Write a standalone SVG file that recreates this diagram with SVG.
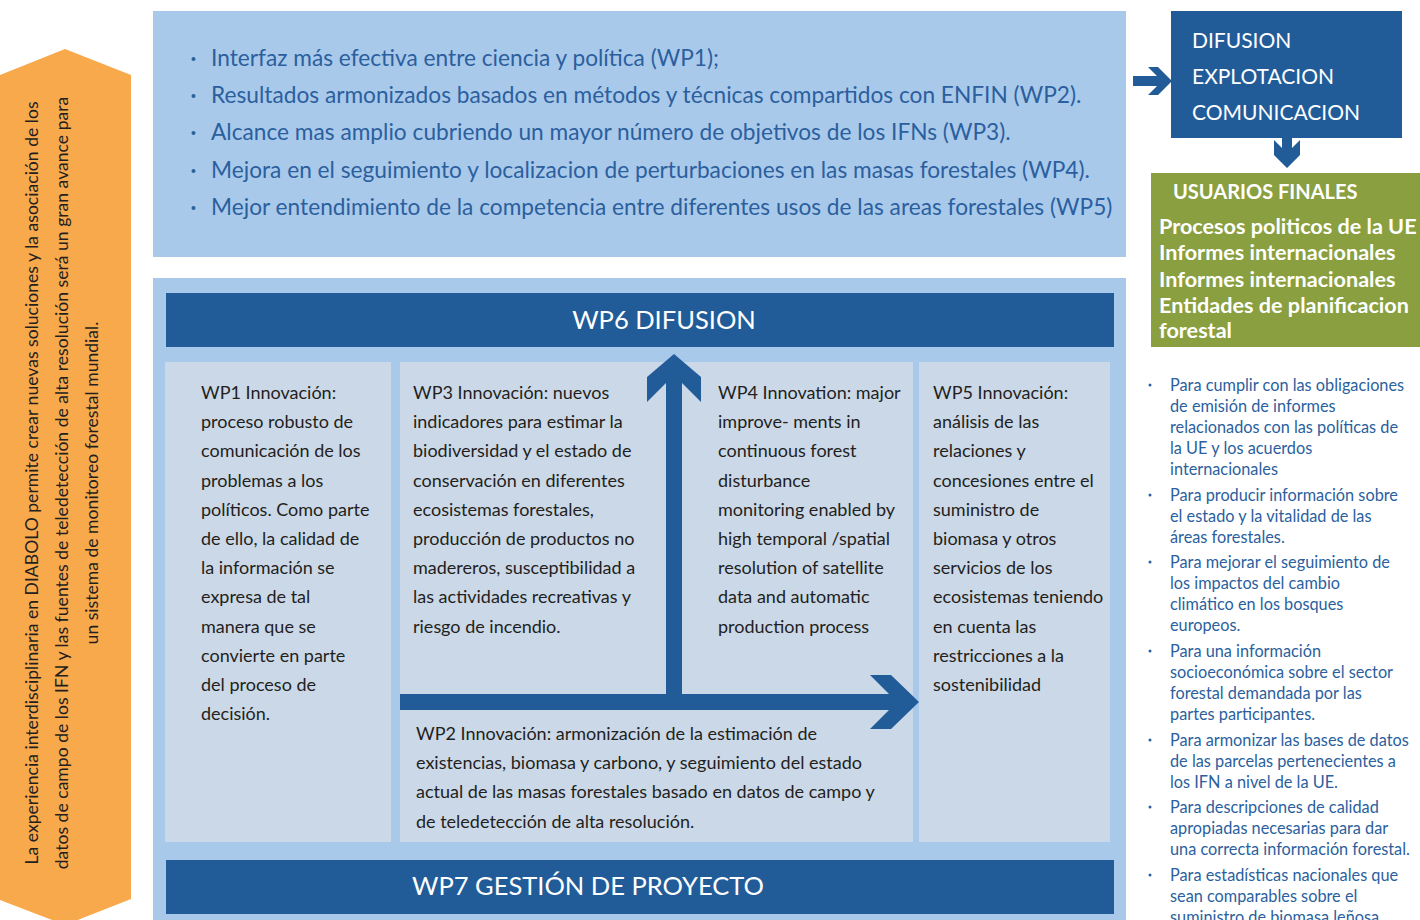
<svg xmlns="http://www.w3.org/2000/svg" width="1420" height="920" viewBox="0 0 1420 920">
<style>
.t{font-family:Lato,"Open Sans","Liberation Sans",sans-serif}
.bul{font-size:22.7px;fill:#2B5F9E}
.pan{font-size:18px;fill:#231F20}
.hdr{font-size:25.5px;fill:#FFFFFF}
.ora{font-size:17.6px;fill:#231F20}
.dif{font-size:21px;fill:#FFFFFF}
.grn{font-size:21.6px;font-weight:bold;fill:#FFFFFF}
.grh{font-size:20px;font-weight:bold;fill:#FFFFFF}
.rb{font-size:16.3px;fill:#2B5F9E}
.lb{fill:#A9C9EA}
.pn{fill:#CBD8E8}
.db{fill:#215C99}
.dot{fill:#2B5F9E}
</style>
<rect width="1420" height="920" fill="#FFFFFF"/>

<g id="orange-arrow">
<polygon points="0,75 65,49 131,75 131,899 65,925 0,900" fill="#F8A94C"/>
<text class="t ora" text-anchor="middle" transform="translate(38,483) rotate(-90)">La experiencia interdisciplinaria en DIABOLO permite crear nuevas soluciones y la asociación de los</text>
<text class="t ora" text-anchor="middle" transform="translate(68,483) rotate(-90)">datos de campo de los IFN y las fuentes de teledetección de alta resolución será un gran avance para</text>
<text class="t ora" text-anchor="middle" transform="translate(98,483) rotate(-90)">un sistema de monitoreo forestal mundial.</text>
</g>

<g id="outcomes">
<rect class="lb" x="153" y="11" width="973" height="246"/>
<g class="dot">
<circle cx="193.5" cy="59" r="2"/>
<circle cx="193.5" cy="96" r="2"/>
<circle cx="193.5" cy="133" r="2"/>
<circle cx="193.5" cy="171" r="2"/>
<circle cx="193.5" cy="208" r="2"/>
</g>
<g class="t bul">
<text x="211" y="66">Interfaz más efectiva entre ciencia y política (WP1);</text>
<text x="211" y="103">Resultados armonizados basados en métodos y técnicas compartidos con ENFIN (WP2).</text>
<text x="211" y="140">Alcance mas amplio cubriendo un mayor número de objetivos de los IFNs (WP3).</text>
<text x="211" y="178">Mejora en el seguimiento y localizacion de perturbaciones en las masas forestales (WP4).</text>
<text x="211" y="215">Mejor entendimiento de la competencia entre diferentes usos de las areas forestales (WP5)</text>
</g>
</g>

<g id="work-packages">
<rect class="lb" x="153" y="278" width="973" height="642"/>
</g>

<g id="wp6">
<rect class="db" x="166" y="293" width="948" height="54"/>
<text class="t hdr" x="664" y="329" text-anchor="middle">WP6 DIFUSION</text>
</g>

<g id="wp1">
<rect class="pn" x="165" y="362" width="226" height="480"/>
<text class="t pan" x="201" y="399">
<tspan x="201">WP1 Innovación:</tspan>
<tspan x="201" dy="29.2">proceso robusto de</tspan>
<tspan x="201" dy="29.2">comunicación de los</tspan>
<tspan x="201" dy="29.2">problemas a los</tspan>
<tspan x="201" dy="29.2">políticos. Como parte</tspan>
<tspan x="201" dy="29.2">de ello, la calidad de</tspan>
<tspan x="201" dy="29.2">la información se</tspan>
<tspan x="201" dy="29.2">expresa de tal</tspan>
<tspan x="201" dy="29.2">manera que se</tspan>
<tspan x="201" dy="29.2">convierte en parte</tspan>
<tspan x="201" dy="29.2">del proceso de</tspan>
<tspan x="201" dy="29.2">decisión.</tspan>
</text>
</g>

<g id="wp2-3-4">
<rect class="pn" x="400" y="362" width="513" height="480"/>
</g>

<g id="wp3">
<text class="t pan" x="413" y="399">
<tspan x="413">WP3 Innovación: nuevos</tspan>
<tspan x="413" dy="29.2">indicadores para estimar la</tspan>
<tspan x="413" dy="29.2">biodiversidad y el estado de</tspan>
<tspan x="413" dy="29.2">conservación en diferentes</tspan>
<tspan x="413" dy="29.2">ecosistemas forestales,</tspan>
<tspan x="413" dy="29.2">producción de productos no</tspan>
<tspan x="413" dy="29.2">madereros, susceptibilidad a</tspan>
<tspan x="413" dy="29.2">las actividades recreativas y</tspan>
<tspan x="413" dy="29.2">riesgo de incendio.</tspan>
</text>
</g>

<g id="wp4">
<text class="t pan" x="718" y="399">
<tspan x="718">WP4 Innovation: major</tspan>
<tspan x="718" dy="29.2">improve- ments in</tspan>
<tspan x="718" dy="29.2">continuous forest</tspan>
<tspan x="718" dy="29.2">disturbance</tspan>
<tspan x="718" dy="29.2">monitoring enabled by</tspan>
<tspan x="718" dy="29.2">high temporal /spatial</tspan>
<tspan x="718" dy="29.2">resolution of satellite</tspan>
<tspan x="718" dy="29.2">data and automatic</tspan>
<tspan x="718" dy="29.2">production process</tspan>
</text>
</g>

<g id="wp2">
<text class="t pan" x="416" y="740">
<tspan x="416">WP2 Innovación: armonización de la estimación de</tspan>
<tspan x="416" dy="29.2">existencias, biomasa y carbono, y seguimiento del estado</tspan>
<tspan x="416" dy="29.2">actual de las masas forestales basado en datos de campo y</tspan>
<tspan x="416" dy="29.2">de teledetección de alta resolución.</tspan>
</text>
</g>

<g id="wp5">
<rect class="pn" x="919" y="362" width="191" height="480"/>
<text class="t pan" x="933" y="399">
<tspan x="933">WP5 Innovación:</tspan>
<tspan x="933" dy="29.2">análisis de las</tspan>
<tspan x="933" dy="29.2">relaciones y</tspan>
<tspan x="933" dy="29.2">concesiones entre el</tspan>
<tspan x="933" dy="29.2">suministro de</tspan>
<tspan x="933" dy="29.2">biomasa y otros</tspan>
<tspan x="933" dy="29.2">servicios de los</tspan>
<tspan x="933" dy="29.2">ecosistemas teniendo</tspan>
<tspan x="933" dy="29.2">en cuenta las</tspan>
<tspan x="933" dy="29.2">restricciones a la</tspan>
<tspan x="933" dy="29.2">sostenibilidad</tspan>
</text>
</g>

<g id="wp7">
<rect class="db" x="166" y="860" width="948" height="54"/>
<text class="t hdr" x="588" y="895" text-anchor="middle">WP7 GESTIÓN DE PROYECTO</text>
</g>

<g id="difusion">
<rect class="db" x="1171" y="11" width="231" height="127"/>
<text class="t dif" x="1192" y="48">DIFUSION</text>
<text class="t dif" x="1192" y="84">EXPLOTACION</text>
<text class="t dif" x="1192" y="120">COMUNICACION</text>
</g>

<g id="usuarios">
<rect x="1151" y="173" width="269" height="174" fill="#8A9F3F"/>
<text class="t grh" x="1173" y="199">USUARIOS FINALES</text>
<text class="t grn" x="1159" y="234">Procesos politicos de la UE</text>
<text class="t grn" x="1159" y="260">Informes internacionales</text>
<text class="t grn" x="1159" y="287">Informes internacionales</text>
<text class="t grn" x="1159" y="313">Entidades de planificacion</text>
<text class="t grn" x="1159" y="338">forestal</text>
</g>

<g id="needs">
<g class="dot">
<circle cx="1150" cy="385" r="1.5"/>
<circle cx="1150" cy="495" r="1.5"/>
<circle cx="1150" cy="562" r="1.5"/>
<circle cx="1150" cy="651" r="1.5"/>
<circle cx="1150" cy="740" r="1.5"/>
<circle cx="1150" cy="807" r="1.5"/>
<circle cx="1150" cy="875" r="1.5"/>
</g>
<g class="t rb">
<text x="1170" y="391"><tspan x="1170">Para cumplir con las obligaciones</tspan><tspan x="1170" dy="20.9">de emisión de informes</tspan><tspan x="1170" dy="20.9">relacionados con las políticas de</tspan><tspan x="1170" dy="20.9">la UE y los acuerdos</tspan><tspan x="1170" dy="20.9">internacionales</tspan></text>
<text x="1170" y="501"><tspan x="1170">Para producir información sobre</tspan><tspan x="1170" dy="20.9">el estado y la vitalidad de las</tspan><tspan x="1170" dy="20.9">áreas forestales.</tspan></text>
<text x="1170" y="568"><tspan x="1170">Para mejorar el seguimiento de</tspan><tspan x="1170" dy="20.9">los impactos del cambio</tspan><tspan x="1170" dy="20.9">climático en los bosques</tspan><tspan x="1170" dy="20.9">europeos.</tspan></text>
<text x="1170" y="657"><tspan x="1170">Para una información</tspan><tspan x="1170" dy="20.9">socioeconómica sobre el sector</tspan><tspan x="1170" dy="20.9">forestal demandada por las</tspan><tspan x="1170" dy="20.9">partes participantes.</tspan></text>
<text x="1170" y="746"><tspan x="1170">Para armonizar las bases de datos</tspan><tspan x="1170" dy="20.9">de las parcelas pertenecientes a</tspan><tspan x="1170" dy="20.9">los IFN a nivel de la UE.</tspan></text>
<text x="1170" y="813"><tspan x="1170">Para descripciones de calidad</tspan><tspan x="1170" dy="20.9">apropiadas necesarias para dar</tspan><tspan x="1170" dy="20.9">una correcta información forestal.</tspan></text>
<text x="1170" y="881"><tspan x="1170">Para estadísticas nacionales que</tspan><tspan x="1170" dy="20.9">sean comparables sobre el</tspan><tspan x="1170" dy="20.9">suministro de biomasa leñosa</tspan></text>
</g>
</g>

<g id="connectors" class="db">
<path d="M400,694 L666,694 L666,383 L647,402 L647,377 L674,354 L701,377 L701,402 L682,383 L682,694 L889,694 L870,675 L891,675 L919,702 L891,729 L870,729 L889,710 L400,710 Z"/>
<polygon points="1133,76 1157,76 1148,67 1158,67 1172,81 1158,95 1148,95 1157,86 1133,86"/>
<polygon points="1274,140 1282,148 1282,138 1292,138 1292,148 1300,140 1300,155 1287,168 1274,155"/>
</g>
</svg>
